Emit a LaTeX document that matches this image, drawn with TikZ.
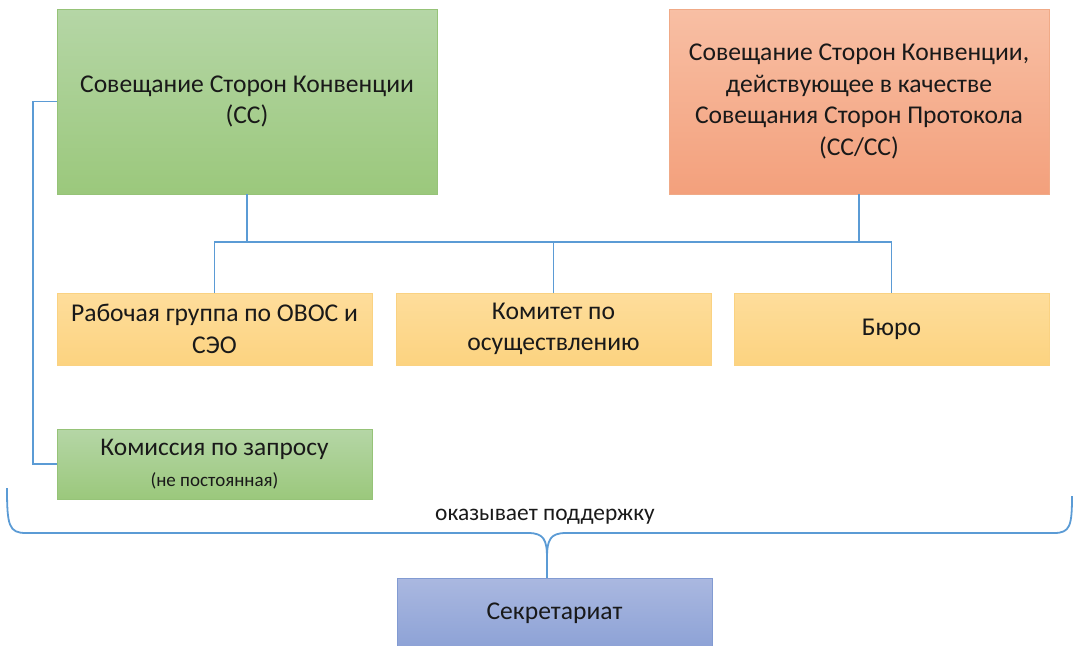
\documentclass[tikz,border=0pt]{standalone}
\usepackage{fontspec}
\setmainfont{Carlito}
\definecolor{gTop}{RGB}{181,214,166}
\definecolor{gBot}{RGB}{155,200,124}
\definecolor{gDraw}{RGB}{150,195,120}
\definecolor{oTop}{RGB}{248,191,164}
\definecolor{oBot}{RGB}{243,160,124}
\definecolor{oDraw}{RGB}{240,170,135}
\definecolor{yTop}{RGB}{254,221,155}
\definecolor{yBot}{RGB}{252,211,128}
\definecolor{yDraw}{RGB}{250,210,130}
\definecolor{bTop}{RGB}{170,184,224}
\definecolor{bBot}{RGB}{141,162,214}
\definecolor{bDraw}{RGB}{130,155,210}
\definecolor{lineC}{RGB}{91,155,213}
\definecolor{txt}{RGB}{25,25,25}
\begin{document}
\begin{tikzpicture}[x=1pt,y=-1pt,
  box/.style={rectangle, anchor=north west, inner sep=0pt, outer sep=0pt, align=center, text=txt, line width=0.6pt},
  greenbox/.style={box, top color=gTop, bottom color=gBot, draw=gDraw},
  orangebox/.style={box, top color=oTop, bottom color=oBot, draw=oDraw},
  yellowbox/.style={box, top color=yTop, bottom color=yBot, draw=yDraw},
  bluebox/.style={box, top color=bTop, bottom color=bBot, draw=bDraw},
  conn/.style={draw=lineC, line width=1.8pt},
  big/.style={font=\fontsize{25.6}{31.5}\selectfont},
  lbl/.style={text=txt, inner sep=0pt, font=\fontsize{23.4}{28}\selectfont}
]
\useasboundingbox (0,0) rectangle (1078,645);
\clip (0,0) rectangle (1078,645);

\node[greenbox, big, minimum width=380pt, minimum height=185pt] (cc) at (57,9)
  {Совещание Сторон Конвенции\\(СС)};
\node[orangebox, big, minimum width=380pt, minimum height=185pt] (ccp) at (669,9)
  {Совещание Сторон Конвенции,\\действующее в качестве\\Совещания Сторон Протокола\\(СС/СС)};

\node[yellowbox, big, minimum width=315pt, minimum height=72pt] (wg) at (57,293)
  {Рабочая группа по ОВОС и\\СЭО};
\node[yellowbox, big, minimum width=315pt, minimum height=72pt] (ic) at (396,293)
  {Комитет по\\осуществлению};
\node[yellowbox, big, minimum width=315pt, minimum height=72pt] (bur) at (734,293)
  {Бюро};

\node[greenbox, font=\fontsize{25.4}{31}\selectfont, minimum width=315pt, minimum height=70pt] (com) at (57,429)
  {Комиссия по запросу\\{\fontsize{19}{31}\selectfont (не постоянная)}};

\node[bluebox, big, minimum width=315pt, minimum height=70pt] (sec) at (397,578)
  {Секретариат};

\coordinate (bus) at (0,242);
\coordinate (lft) at (33,0);
\coordinate (tip) at (547,558);

\draw[conn] (cc.south) -- (cc.south |- bus);
\draw[conn] (ccp.south) -- (ccp.south |- bus);
\draw[conn] (wg.north) -- (wg.north |- bus) -- (bur.north |- bus) -- (bur.north);
\draw[conn] (ic.north) -- (ic.north |- bus);
\draw[conn] (cc.west) -- (cc.west -| lft) |- (com.west);

\draw[conn] (7,488) .. controls (7,526) and (9,533) .. (26,533) -- (528,533)
  .. controls (544,533) and (547,540) .. (tip)
  .. controls (547,540) and (550,533) .. (566,533) -- (1054,533)
  .. controls (1070,533) and (1072,526) .. (1072,496);
\draw[conn] (tip) -- (tip |- sec.north);

\node[lbl] (sup) at (545,517) {оказывает поддержку};
\end{tikzpicture}
\end{document}
